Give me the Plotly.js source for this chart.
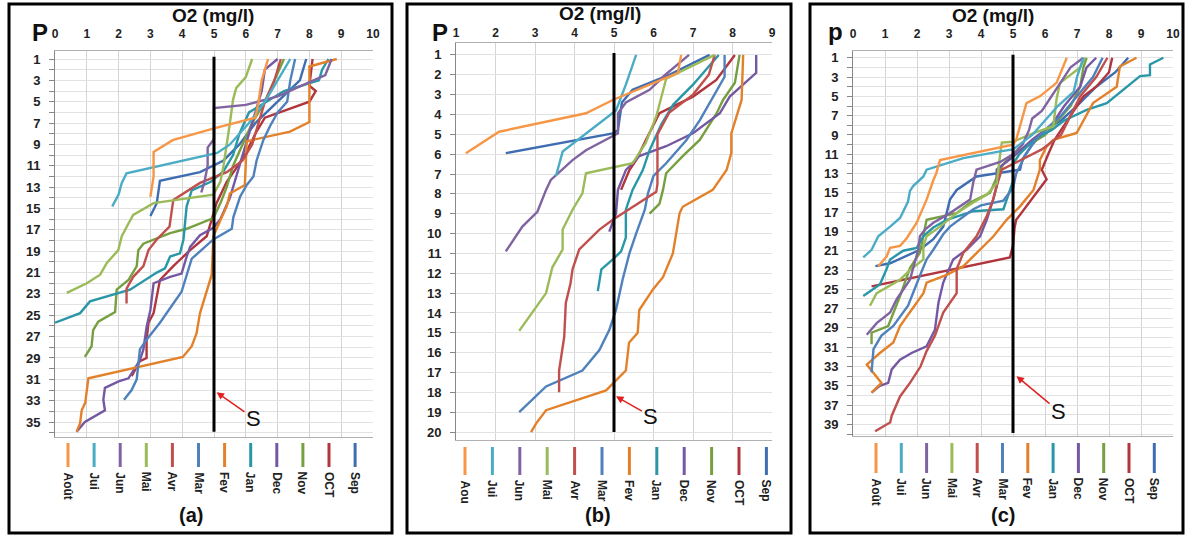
<!DOCTYPE html>
<html><head><meta charset="utf-8">
<script src="https://cdn.plot.ly/plotly-3.0.1.min.js"></script>
<style>html,body{margin:0;padding:0;background:#fff}#chart{width:1186px;height:535px}</style>
</head><body><div id="chart"></div>
<script>
// ---------- categories ----------
const monthsA = ['Août','Jui','Jun','Mai','Avr','Mar','Fev','Jan','Dec','Nov','OCT','Sep'];
const monthsB = ['Aou','Jui','Jun','Mai','Avr','Mar','Fev','Jan','Dec','Nov','OCT','Sep'];
const monthsC = ['Août','Jui','Jun','Mai','Avr','Mar','Fev','Jan','Dec','Nov','OCT','Sep'];
const monthColors = ['#F79646','#4BACC6','#8064A2','#9BBB59','#C0504D','#4F81BD','#E3812B','#2A97A8','#7558A2','#76A040','#B0353D','#3F6DB2'];
const threshold = 5; // O2 limit S (mg/l)

// ---------- Panel (a): depth (P) and O2 (mg/l) ----------
const A_Aout_d=[1,3,5,6.5,7.5,8.6,9.7,12,13.9];
const A_Aout_o=[6.7,6.5,6.4,6.3,5.0,3.7,3.1,3.1,3.0];
const A_Jui_d=[1,3,5,7,9,9.8,11.7,12.6,13.7,14.8];
const A_Jui_o=[7.4,7.0,6.6,6.1,5.5,5.1,2.25,2.1,2.0,1.8];
const A_Jun_d=[1,2.5,4.5,5.3,5.6,8.5,9.3,11,12.5,13.5];
const A_Jun_o=[8.7,8.5,7.0,6.0,5.0,5.0,4.8,4.8,4.7,4.6];
const A_Mai_d=[1,2.7,3.7,4.8,7,9,11,12.5,13.7,14.5,15.6,16.4,17.6,18.9,20.1,21.2,22,22.9];
const A_Mai_o=[6.2,6.0,5.7,5.6,5.5,5.4,5.3,5.2,4.98,3.1,2.46,2.31,2.1,1.99,1.63,1.42,1.0,0.37];
const A_Avr_d=[1,3,5,7,9,10.5,11.6,12.6,14.2,16.7,17.9,18.9,20.4,21.4,22.5,23.9];
const A_Avr_o=[7.1,6.9,6.6,6.4,6.2,5.9,5.4,4.56,3.72,3.6,3.2,2.94,2.78,2.46,2.25,2.25];
const A_Mar_d=[1,3,5,6,7.3,8.6,10.5,12,12.8,13.9,15.8,16.9,17.9,19.7,22.8,23.9,25.7,27.3,28.2,31,32,32.9];
const A_Mar_o=[7.55,7.4,7.3,7.0,6.76,6.55,6.34,6.24,6.03,5.82,5.61,5.56,4.98,4.3,3.98,3.72,3.3,2.88,2.67,2.57,2.41,2.17];
const A_Fev_d=[1,1.7,6.9,7.8,8.7,11.6,12.8,13.6,14.8,16.1,17.6,21.2,24.8,26.7,27.9,28.9,30.9,33.2,33.9,35.1,35.9];
const A_Fev_o=[8.86,8.0,8.0,7.39,6.03,6.0,5.97,5.5,5.4,5.2,4.98,4.93,4.56,4.45,4.3,4.02,1.05,0.95,0.84,0.79,0.68];
const A_Jan_d=[1,2,3,4,6,8,10,11.5,12.5,13.3,14.8,16.7,17.9,19.2,19.5,20.6,21,22.6,23.2,23.7,24.8,25.7];
const A_Jan_o=[8.6,8.4,8.3,7.2,6.1,5.8,5.6,5.3,4.9,4.3,4.14,4.09,4.04,3.93,3.62,3.46,3.2,2.36,1.63,1.1,0.79,0.0];
const A_Dec_d=[1,2,4,6,8,10,12,14,16,16.8,17.5,18.6,19.5,21.1,21.4,22,24.5,26.1,28.2,29.2,30.9,31.2,31.8,32.9,33.9,35,35.9];
const A_Dec_o=[7.0,6.6,6.5,6.3,6.1,5.9,5.7,5.5,5.2,4.98,4.56,4.25,4.14,3.98,3.62,3.1,3.0,2.88,2.78,2.67,2.31,2.0,1.57,1.52,1.57,0.94,0.68];
const A_Nov_d=[1,3,5,7,9,11,13,14.5,15.9,16.9,17.3,17.8,18.3,18.9,20.4,21.7,22.6,24.7,25.6,26.4,27.9,28.9];
const A_Nov_o=[7.2,6.9,6.6,6.2,5.9,5.6,5.4,5.2,4.98,4.14,3.62,3.2,2.78,2.62,2.57,2.31,1.94,1.89,1.36,1.2,1.15,0.94];
const A_OCT_d=[1,3.5,4,5,6.5,8,9.8,10.8,12.5,14.5,17.6,18.9,19.8,20.4,21.7,23.2,24.8,25.7,27.3,29,29.3,30.7];
const A_OCT_o=[8.1,8.0,8.2,8.0,6.6,6.3,6.0,5.8,5.4,5.08,4.77,4.25,3.93,3.72,3.3,3.2,3.1,2.94,2.88,2.88,2.67,2.41];
const A_Sep_d=[1,3,5,7,9,10.5,11.6,12.4,14.5,15.7];
const A_Sep_o=[7.9,7.7,7.0,6.3,5.8,5.3,4.56,3.3,3.2,3.0];

// ---------- Panel (b) ----------
const B_Aou_d=[1,1.9,3.27,3.94,4.87,5.95];
const B_Aou_o=[6.7,6.62,4.97,4.29,2.09,1.25];
const B_Jui_d=[1,2.5,3.8,4.95,5.87,7.1];
const B_Jui_o=[5.56,5.3,5.05,4.29,3.7,3.53];
const B_Jun_d=[1,2,2.76,3.4,3.94,4.95,5.8,6.3,7.3,7.8,8.9,9.65,10.9];
const B_Jun_o=[6.9,6.3,5.9,5.3,5.1,5.1,4.29,3.95,3.4,3.28,3.06,2.68,2.26];
const B_Mai_d=[1,2.2,4.1,5.45,6.46,6.96,7.97,8.8,9.8,10.8,11.7,13,14.9];
const B_Mai_o=[7.55,6.32,6.07,5.8,5.47,4.29,4.2,3.95,3.7,3.7,3.44,3.28,2.6];
const B_Avr_d=[1,2,3,3.9,5,6.5,7.5,7.9,8.9,9.3,9.8,10.8,11.8,12.5,13.5,15.2,16.9,18];
const B_Avr_o=[7.55,7.4,7.0,6.4,6.1,6.1,6.1,6.07,5.3,4.97,4.63,4.12,3.95,3.9,3.78,3.74,3.61,3.61];
const B_Mar_d=[1,2.1,4.3,5.3,6.46,7.1,7.97,8.8,10,11,12.3,13.85,14.86,15.87,16.9,17.7,19];
const B_Mar_o=[7.8,7.8,7.17,6.83,6.32,6.0,5.86,5.78,5.56,5.39,5.22,5.05,4.88,4.63,4.2,3.28,2.6];
const B_Fev_d=[1,3.27,4.95,5.95,6.8,7.8,8.65,8.98,11,12.2,12.8,13.85,15,15.5,16.9,17.55,17.9,18.9,19.56,20];
const B_Fev_o=[8.27,8.23,7.97,7.97,7.85,7.5,6.74,6.66,6.49,6.24,5.99,5.64,5.6,5.38,5.3,4.97,4.8,3.28,3.03,2.9];
const B_Jan_d=[1,2.5,3.5,4.5,5.8,6.8,7.8,8.8,10.2,10.9,11.3,11.8,12.9];
const B_Jan_o=[7.65,7.0,6.5,6.2,5.9,5.73,5.47,5.3,5.3,5.18,4.97,4.68,4.59];
const B_Dec_d=[1,1.9,3.1,3.94,4.95,5.6,6.1,6.8,7.8,9,9.9];
const B_Dec_o=[8.6,8.6,7.93,7.68,7.0,6.32,5.64,5.3,5.1,5.05,4.88];
const B_Nov_d=[1,2.4,3.27,3.94,5.28,6.1,6.96,7.8,8.5,9];
const B_Nov_o=[8.18,8.06,7.76,7.6,7.17,6.74,6.32,6.24,6.15,5.9];
const B_OCT_d=[1,2.26,3.1,3.94,5.28,6.3,6.8,7.8];
const B_OCT_o=[8.06,7.59,7.0,6.15,5.81,5.56,5.39,5.18];
const B_Sep_d=[1,2,2.76,3.4,4.8,4.95,5.95];
const B_Sep_o=[7.42,6.4,5.47,5.2,5.1,4.97,2.26];

// ---------- Panel (c) ----------
const C_Aout_d=[1,3.6,5,5.7,9.5,10,11.6,13,13.7,15.7,18.1,19.7,20.5,20.7,21.6,22.6];
const C_Aout_o=[6.68,6.36,5.84,5.42,5.1,5.0,2.72,2.6,2.51,2.3,1.99,1.68,1.47,1.16,1.05,0.79];
const C_Jui_d=[1,3,4.5,6,7.5,9,10,10.5,10.7,11.4,12.6,13.3,14.3,14.8,15.9,17.6,18.5,19.5,20.9,21.7];
const C_Jui_o=[7.2,7.0,6.9,6.4,6.0,5.6,5.2,5.0,4.6,3.45,2.3,2.2,1.88,1.78,1.72,1.47,1.16,0.79,0.58,0.32];
const C_Jun_d=[1,2,3,5,6.5,7.3,8.5,10,11,11.8,12.4,12.6,13.9,15.7,17.1,18.1,18.8,19.5,20.9,24,26,27.4,28.5,29.7];
const C_Jun_o=[7.2,6.8,6.6,6.2,5.9,5.6,5.5,5.3,5.0,4.6,4.0,3.86,3.76,3.66,3.03,2.51,2.25,2.09,2.04,1.78,1.37,1.16,0.74,0.43];
const C_Mai_d=[1,2,3.6,5.3,8.1,8.8,9.7,9.8,11,12.6,14,15.2,16,17.1,18.5,19.5,20.5,21.9,23,24,24.7,25.4,26.7];
const C_Mai_o=[7.25,7.1,6.47,6.36,6.26,5.64,5.0,4.65,4.6,4.55,4.49,4.18,3.76,3.24,2.72,2.3,2.2,2.2,1.78,1.47,1.1,0.74,0.53];
const C_Avr_d=[1,3,5,7,9,10.5,11.5,12.6,14.3,15.7,17.4,19.5,21.2,22.9,25.4,27.4,29.8,31.4,33,34.7,36.1,38.1,38.8,39.7];
const C_Avr_o=[7.95,7.6,7.1,6.8,6.5,5.9,5.3,4.65,4.49,4.38,4.18,3.86,3.45,3.24,3.24,2.82,2.56,2.3,2.11,1.78,1.47,1.21,1.16,0.69];
const C_Mar_d=[1,3,5,7,8.5,9.5,11,13,14.5,15.8,16.3,16.7,18.5,19.3,20.9,21.9,23.6,25.7,26.7,28.8,29.8,31.2,33.6];
const C_Mar_o=[7.8,7.5,7.0,6.5,6.0,5.7,5.4,5.1,5.0,4.7,4.0,3.76,3.03,2.82,2.51,2.3,2.09,1.83,1.72,1.26,0.89,0.64,0.58];
const C_Fev_d=[1,1.9,4,5.7,8.8,9.5,10.2,11.6,12.6,14.7,16.4,17.8,19.5,20.9,22.6,23.5,24.3,25.4,27.4,28.8,30.5,31.6,32.8,34.7,35.7];
const C_Fev_o=[8.86,8.34,8.24,7.5,6.99,6.26,6.05,5.84,5.84,5.64,5.22,4.8,4.39,3.97,3.45,2.93,2.3,2.2,1.78,1.47,1.26,0.84,0.43,0.89,0.58];
const C_Jan_d=[1,1.7,2.8,2.9,5.7,6.4,7.5,8.5,9,10,11,12,13.8,16.7,16.9,17.8,18.6,19.5,20.7,21,21.9,22.9,24.5,25.7];
const C_Jan_o=[9.7,9.28,9.28,8.97,7.93,7.3,6.6,6.2,5.9,5.5,5.2,5.0,5.0,4.7,3.76,2.93,2.51,2.2,1.99,1.57,1.16,1.05,0.84,0.32];
const C_Dec_d=[1,2,4,6,8,9.5,11,12.6,14.3,15.7,17.8,19.5,20.9,21.9,24.3,26.4,29.2,30.9,31.6,32.3,33.3,34.7,35,35.7];
const C_Dec_o=[7.6,7.3,7.1,6.6,6.2,5.6,5.1,4.49,4.49,4.38,4.18,3.97,3.55,3.13,2.82,2.67,2.56,2.3,1.83,1.47,1.21,1.1,0.84,0.58];
const C_Nov_d=[1,2,4,6,7.5,9,10,11,12,12.6,15,16,17.1,17.8,21.2,22.8,25.7,28.8,29.5,30.7];
const C_Nov_o=[7.3,7.2,7.1,6.8,6.4,6.0,5.5,5.0,4.7,4.6,4.28,3.66,3.24,2.3,2.09,1.78,1.47,1.1,0.58,0.58];
const C_OCT_d=[1,2.5,4,5,6.5,8,9.5,11,12.6,13.6,14.7,16.4,17.8,18.6,20.5,21.7,24.7];
const C_OCT_o=[8.1,8.0,7.6,7.2,6.9,6.6,6.3,6.1,5.9,6.05,5.8,5.4,5.1,5.05,5.0,4.9,0.58];
const C_Sep_d=[1,2.5,4,6,7.5,8.5,10,11.5,12.6,13.3,14.7,15.7,18.5,19.8,20.9,22.3,22.6];
const C_Sep_o=[8.6,8.2,7.6,7.0,6.5,6.0,5.6,5.3,5.22,3.86,3.24,3.03,2.82,2.51,2.09,1.16,0.7];

// ---------- tick labels ----------
const xTicksA=[0,1,2,3,4,5,6,7,8,9,10];
const xTicksB=[1,2,3,4,5,6,7,8,9];
const xTicksC=[0,1,2,3,4,5,6,7,8,9,10];
const yTicksA=[1,3,5,7,9,11,13,15,17,19,21,23,25,27,29,31,33,35];
const yTicksB=[1,2,3,4,5,6,7,8,9,10,11,12,13,14,15,16,17,18,19,20];
const yTicksC=[1,3,5,7,9,11,13,15,17,19,21,23,25,27,29,31,33,35,37,39];
// S line extent (depths)
const sDepthA=[0.8,35.9], sDepthB=[0.9,20], sDepthC=[0.7,39.9];

const seriesA=[[A_Aout_d,A_Aout_o],[A_Jui_d,A_Jui_o],[A_Jun_d,A_Jun_o],[A_Mai_d,A_Mai_o],[A_Avr_d,A_Avr_o],[A_Mar_d,A_Mar_o],[A_Fev_d,A_Fev_o],[A_Jan_d,A_Jan_o],[A_Dec_d,A_Dec_o],[A_Nov_d,A_Nov_o],[A_OCT_d,A_OCT_o],[A_Sep_d,A_Sep_o]];
const seriesB=[[B_Aou_d,B_Aou_o],[B_Jui_d,B_Jui_o],[B_Jun_d,B_Jun_o],[B_Mai_d,B_Mai_o],[B_Avr_d,B_Avr_o],[B_Mar_d,B_Mar_o],[B_Fev_d,B_Fev_o],[B_Jan_d,B_Jan_o],[B_Dec_d,B_Dec_o],[B_Nov_d,B_Nov_o],[B_OCT_d,B_OCT_o],[B_Sep_d,B_Sep_o]];
const seriesC=[[C_Aout_d,C_Aout_o],[C_Jui_d,C_Jui_o],[C_Jun_d,C_Jun_o],[C_Mai_d,C_Mai_o],[C_Avr_d,C_Avr_o],[C_Mar_d,C_Mar_o],[C_Fev_d,C_Fev_o],[C_Jan_d,C_Jan_o],[C_Dec_d,C_Dec_o],[C_Nov_d,C_Nov_o],[C_OCT_d,C_OCT_o],[C_Sep_d,C_Sep_o]];

// ---------- layout geometry (pixels) ----------
const W=1186,H=535;
const fx=v=>v/W, fy=v=>1-v/H;
const FONT='Liberation Sans, Arial, sans-serif';
const panels=[
  {key:'',  series:seriesA, names:monthsA, xr:[0,10], yr:[36.4,0.25], xd:[55,373], yd:[51,437], xt:xTicksA, yt:yTicksA, s:sDepthA, so:7,
   frame:[9,4,392,533], title:[213,15], P:['P',40,33], lab:['(a)',191,515], arrow:[5.08,32.2,37,26],
   leg:{x0:68,step:26.1,y0:443,y1:467,ty:470}},
  {key:'2', series:seriesB, names:monthsB, xr:[1,9], yr:[20.4,0.4], xd:[456,772], yd:[43,440], xt:xTicksB, yt:yTicksB, s:sDepthB, so:0,
   frame:[407,4,791,533], title:[600,14], P:['P',440,32], lab:['(b)',598,515], arrow:[5.05,18.2,35,20],
   leg:{x0:465,step:27.4,y0:447,y1:475,ty:478}},
  {key:'3', series:seriesC, names:monthsC, xr:[0,10], yr:[40.2,0.3], xd:[853,1173], yd:[51,436], xt:xTicksC, yt:yTicksC, s:sDepthC, so:7,
   frame:[810,4,1183,533], title:[993,15], P:['p',835,31], lab:['(c)',1003,515], arrow:[5.11,34.0,42,35],
   leg:{x0:876,step:25.3,y0:443,y1:473,ty:476}}
];

const traces=[], shapes=[], annotations=[];
const layout={width:W,height:H,margin:{l:0,r:0,t:0,b:0},paper_bgcolor:'#fff',plot_bgcolor:'#fff',showlegend:false,font:{family:FONT,color:'#222'}};

panels.forEach(p=>{
  const xa='x'+p.key, ya='y'+p.key;
  for(let i=p.series.length-1;i>=0;i--){
    traces.push({type:'scatter',mode:'lines',x:p.series[i][1],y:p.series[i][0],xaxis:xa,yaxis:ya,
      name:p.names[i],line:{color:monthColors[i],width:2.4},hoverinfo:'x+y+name'});
  }
  traces.push({type:'scatter',mode:'lines',x:[threshold,threshold],y:p.s,xaxis:xa,yaxis:ya,name:'S',line:{color:'#000',width:3}});
  layout['xaxis'+p.key]={domain:[fx(p.xd[0]),fx(p.xd[1])],range:p.xr,anchor:ya,side:'top',
    tickvals:p.xt,ticktext:p.xt.map(String),tickfont:{size:12,family:FONT,weight:'bold',color:'#222'},
    ticks:'',ticklabelstandoff:p.so,showgrid:true,gridcolor:'#d4d4d4',gridwidth:1,zeroline:false,
    showline:true,mirror:true,linecolor:'#b0b0b0',linewidth:1,fixedrange:true};
  layout['yaxis'+p.key]={domain:[fy(p.yd[1]),fy(p.yd[0])],range:p.yr,anchor:xa,
    tickvals:p.yt,ticktext:p.yt.map(String),tickfont:{size:13,family:FONT,weight:'bold',color:'#222'},
    ticks:'outside',ticklen:5,tickcolor:'#888',ticklabelstandoff:6,showgrid:true,gridcolor:'#e2e2e2',zeroline:false,
    minor:{dtick:1,tick0:1,showgrid:true,gridcolor:'#e2e2e2',ticks:'outside',ticklen:5,tickcolor:'#888'},
    showline:true,linecolor:'#888',linewidth:1,fixedrange:true};
  shapes.push({type:'rect',xref:'paper',yref:'paper',x0:fx(p.frame[0]),x1:fx(p.frame[2]),y0:fy(p.frame[3]),y1:fy(p.frame[1]),line:{color:'#000',width:3}});
  annotations.push({xref:'paper',yref:'paper',x:fx(p.title[0]),y:fy(p.title[1]),text:'O2 (mg/l)',showarrow:false,font:{size:19,family:FONT,weight:'bold',color:'#111'},xanchor:'center',yanchor:'middle'});
  annotations.push({xref:'paper',yref:'paper',x:fx(p.P[1]),y:fy(p.P[2]),text:p.P[0],showarrow:false,font:{size:24,family:FONT,weight:'bold',color:'#111'},xanchor:'center',yanchor:'middle'});
  annotations.push({xref:'paper',yref:'paper',x:fx(p.lab[1]),y:fy(p.lab[2]),text:p.lab[0],showarrow:false,font:{size:20,family:FONT,weight:'bold',color:'#111'},xanchor:'center',yanchor:'middle'});
  annotations.push({xref:xa,yref:ya,x:p.arrow[0],y:p.arrow[1],ax:p.arrow[2],ay:p.arrow[3],text:'S',showarrow:true,
    arrowcolor:'#e02020',arrowwidth:1.5,arrowhead:2,arrowsize:1,standoff:0,font:{size:22,family:FONT,color:'#111'}});
  p.names.forEach((n,i)=>{
    const x=p.leg.x0+i*p.leg.step;
    shapes.push({type:'line',xref:'paper',yref:'paper',x0:fx(x),x1:fx(x),y0:fy(p.leg.y0),y1:fy(p.leg.y1),line:{color:monthColors[i],width:3}});
    annotations.push({xref:'paper',yref:'paper',x:fx(x),y:fy(p.leg.ty),text:n,textangle:90,showarrow:false,
      xanchor:'center',yanchor:'top',font:{size:12,family:FONT,weight:'bold',color:'#222'}});
  });
});
layout.shapes=shapes; layout.annotations=annotations;
Plotly.newPlot('chart',traces,layout,{displayModeBar:false,staticPlot:true});
</script></body></html>
